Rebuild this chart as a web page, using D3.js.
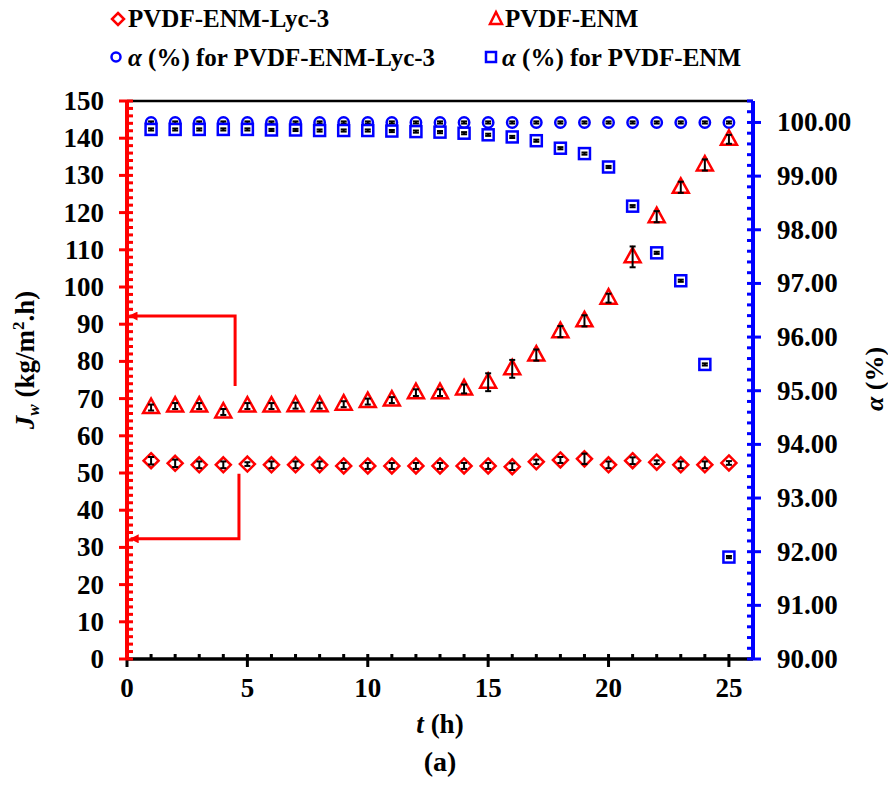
<!DOCTYPE html>
<html>
<head>
<meta charset="utf-8">
<script src="https://cdn.jsdelivr.net/npm/d3@7"></script>
<style>
  body { margin: 0; background: #fff; }
  text { font-family: "Liberation Serif", "Times New Roman", serif; font-weight: bold; fill: #000; }
</style>
</head>
<body>
<svg id="chart" width="888" height="787"></svg>
<script>
// data
var hours = [1, 2, 3, 4, 5, 6, 7, 8, 9, 10, 11, 12, 13, 14, 15, 16, 17, 18, 19, 20, 21, 22, 23, 24, 25];
var jwLyc = [53.3, 52.6, 52.2, 52.2, 52.4, 52.2, 52.2, 52.2, 51.9, 51.9, 51.9, 51.9, 51.9, 51.9, 51.9, 51.7, 53.0, 53.5, 53.8, 52.2, 53.3, 52.9, 52.2, 52.2, 52.7];
var jwLycErr = [1.0, 1.0, 0.9, 0.9, 0.5, 0.9, 0.9, 0.9, 0.8, 0.8, 0.8, 0.8, 0.8, 0.8, 0.8, 0.9, 0.6, 0.8, 1.4, 0.9, 0.9, 0.5, 0.9, 0.9, 0.5];
var jwEnm = [67.6, 68.0, 68.0, 66.4, 68.0, 68.0, 68.1, 68.1, 68.5, 69.2, 69.6, 71.6, 71.6, 72.6, 74.4, 78.0, 81.7, 88.0, 90.9, 97.0, 108.1, 118.9, 126.8, 132.8, 139.7];
var jwEnmErr = [0.8, 0.8, 0.8, 0.8, 0.8, 0.8, 0.8, 0.8, 0.8, 0.8, 0.8, 0.9, 0.9, 1.2, 2.4, 2.4, 1.5, 1.5, 1.5, 1.2, 2.8, 1.5, 1.5, 1.5, 1.2];
var alphaLyc = [100.0, 100.0, 100.0, 100.0, 100.0, 100.0, 100.0, 100.0, 100.0, 100.0, 100.0, 100.0, 100.0, 100.0, 100.0, 100.0, 100.0, 100.0, 100.0, 100.0, 100.0, 100.0, 100.0, 100.0, 100.0];
var alphaEnm = [99.87, 99.87, 99.87, 99.87, 99.87, 99.86, 99.86, 99.85, 99.85, 99.85, 99.84, 99.83, 99.82, 99.80, 99.77, 99.73, 99.66, 99.52, 99.42, 99.17, 98.44, 97.57, 97.05, 95.49, 91.90];
var alphaErr = 0.02;

var xTicks = [0, 5, 10, 15, 20, 25];
var leftTicks = [0, 10, 20, 30, 40, 50, 60, 70, 80, 90, 100, 110, 120, 130, 140, 150];
var rightTicks = [90, 91, 92, 93, 94, 95, 96, 97, 98, 99, 100];

// arrows pointing each series to its axis: [t, Jw] corners
var arrowEnm = [[4.49, 73.4], [4.49, 92.2], [0.1, 92.2]];
var arrowLyc = [[4.65, 49.8], [4.65, 32.3], [0.15, 32.3]];

var svg = d3.select('#chart');
var plotL = 127, plotR = 753, plotT = 101, plotB = 659;

var xScale = d3.scaleLinear().domain([0, 26]).range([plotL, plotR]);
var yLeft = d3.scaleLinear().domain([0, 150]).range([plotB, plotT]);
var yRight = d3.scaleLinear().domain([90, 100.4]).range([plotB, plotT]);

// top frame line
svg.append('line')
  .attr('x1', plotL).attr('x2', plotR)
  .attr('y1', plotT).attr('y2', plotT)
  .attr('stroke', '#000').attr('stroke-width', 2.5);

// bottom axis
var xMinor = d3.range(0, 27, 1);
svg.append('g').selectAll('line').data(xMinor).enter().append('line')
  .attr('x1', d => xScale(d)).attr('x2', d => xScale(d))
  .attr('y1', d => d % 5 == 0 ? plotB + 8 : plotB)
  .attr('y2', plotB - 5)
  .attr('stroke', '#000').attr('stroke-width', 3);
svg.append('line')
  .attr('x1', plotL).attr('x2', plotR)
  .attr('y1', plotB).attr('y2', plotB)
  .attr('stroke', '#000').attr('stroke-width', 3.5);
svg.append('g').selectAll('text').data(xTicks).enter().append('text')
  .attr('x', d => xScale(d)).attr('y', 697)
  .attr('text-anchor', 'middle')
  .style('font-size', '27px')
  .text(d => d);

// left axis (red)
var leftMinor = d3.range(0, 151, 2);
svg.append('g').selectAll('line').data(leftMinor).enter().append('line')
  .attr('y1', d => yLeft(d)).attr('y2', d => yLeft(d))
  .attr('x1', d => d % 10 == 0 ? plotL - 8 : plotL)
  .attr('x2', plotL + 6)
  .attr('stroke', 'red').attr('stroke-width', 3);
svg.append('line')
  .attr('x1', plotL).attr('x2', plotL)
  .attr('y1', plotT).attr('y2', plotB)
  .attr('stroke', 'red').attr('stroke-width', 4);
svg.append('g').selectAll('text').data(leftTicks).enter().append('text')
  .attr('x', 104).attr('y', d => yLeft(d) + 9)
  .attr('text-anchor', 'end')
  .style('font-size', '27px')
  .text(d => d);

// right axis (blue)
var rightMinor = d3.range(0, 53).map(i => 90 + i * 0.2);
svg.append('g').selectAll('line').data(rightMinor).enter().append('line')
  .attr('y1', d => yRight(d)).attr('y2', d => yRight(d))
  .attr('x1', d => Math.abs(d - Math.round(d)) < 0.01 ? plotR + 8 : plotR)
  .attr('x2', plotR - 6)
  .attr('stroke', 'blue').attr('stroke-width', 3);
svg.append('line')
  .attr('x1', plotR).attr('x2', plotR)
  .attr('y1', plotT).attr('y2', plotB)
  .attr('stroke', 'blue').attr('stroke-width', 4);
svg.append('g').selectAll('text').data(rightTicks).enter().append('text')
  .attr('x', 777).attr('y', d => yRight(d) + 9)
  .attr('text-anchor', 'start')
  .style('font-size', '27px')
  .text(d => d.toFixed(2));

// axis titles
var yTitle = svg.append('text')
  .attr('transform', 'translate(34,360) rotate(-90)')
  .attr('text-anchor', 'middle')
  .style('font-size', '27px');
yTitle.append('tspan').style('font-style', 'italic').text('J');
yTitle.append('tspan').style('font-style', 'italic').style('font-size', '17px').attr('dy', 5).text('w');
yTitle.append('tspan').attr('dy', -5).text(' (kg/m');
yTitle.append('tspan').style('font-size', '17px').attr('dy', -10).text('2');
yTitle.append('tspan').attr('dy', 10).text('.h)');

var rTitle = svg.append('text')
  .attr('transform', 'translate(883,379) rotate(-90)')
  .attr('text-anchor', 'middle')
  .style('font-size', '26px');
rTitle.append('tspan').style('font-style', 'italic').text('α');
rTitle.append('tspan').text(' (%)');

var xTitle = svg.append('text')
  .attr('x', 440).attr('y', 733)
  .attr('text-anchor', 'middle')
  .style('font-size', '27px');
xTitle.append('tspan').style('font-style', 'italic').text('t');
xTitle.append('tspan').text(' (h)');

svg.append('text')
  .attr('x', 440).attr('y', 771)
  .attr('text-anchor', 'middle')
  .style('font-size', '28px')
  .text('(a)');

// annotation arrows
var marker = svg.append('defs').append('marker')
  .attr('id', 'arrow')
  .attr('viewBox', '0 0 10 10')
  .attr('refX', 9).attr('refY', 5)
  .attr('markerWidth', 3).attr('markerHeight', 3)
  .attr('orient', 'auto');
marker.append('path').attr('d', 'M0,0 L10,5 L0,10 z').attr('fill', 'red');

var arrowLine = d3.line().x(d => xScale(d[0])).y(d => yLeft(d[1]));
[arrowEnm, arrowLyc].forEach(function(a) {
  svg.append('path')
    .attr('d', arrowLine(a))
    .attr('fill', 'none')
    .attr('stroke', 'red')
    .attr('stroke-width', 3)
    .attr('marker-end', 'url(#arrow)');
});

// markers
var diamond = 'M0,-7.5 L7.5,0 L0,7.5 L-7.5,0 Z';
var triangle = 'M0,-9 L8,5.5 L-8,5.5 Z';

function drawErrors(vals, errs, yScale) {
  var g = svg.append('g').attr('stroke', '#000').attr('stroke-width', 2);
  vals.forEach(function(v, i) {
    var e = Array.isArray(errs) ? errs[i] : errs;
    var cx = xScale(hours[i]);
    g.append('line').attr('x1', cx).attr('x2', cx).attr('y1', yScale(v - e)).attr('y2', yScale(v + e));
    g.append('line').attr('x1', cx - 3).attr('x2', cx + 3).attr('y1', yScale(v - e)).attr('y2', yScale(v - e));
    g.append('line').attr('x1', cx - 3).attr('x2', cx + 3).attr('y1', yScale(v + e)).attr('y2', yScale(v + e));
  });
}

svg.append('g').selectAll('circle').data(alphaLyc).enter().append('circle')
  .attr('cx', (d, i) => xScale(hours[i])).attr('cy', d => yRight(d))
  .attr('r', 5.2)
  .attr('fill', '#fff').attr('stroke', 'blue').attr('stroke-width', 2.5);
drawErrors(alphaLyc, alphaErr, yRight);

svg.append('g').selectAll('rect').data(alphaEnm).enter().append('rect')
  .attr('x', (d, i) => xScale(hours[i]) - 5.5).attr('y', d => yRight(d) - 5.5)
  .attr('width', 11).attr('height', 11)
  .attr('fill', '#fff').attr('stroke', 'blue').attr('stroke-width', 2.5);
drawErrors(alphaEnm, alphaErr, yRight);

svg.append('g').selectAll('path').data(jwLyc).enter().append('path')
  .attr('d', diamond)
  .attr('transform', (d, i) => 'translate(' + xScale(hours[i]) + ',' + yLeft(d) + ')')
  .attr('fill', '#fff').attr('stroke', 'red').attr('stroke-width', 2.5);
drawErrors(jwLyc, jwLycErr, yLeft);

svg.append('g').selectAll('path').data(jwEnm).enter().append('path')
  .attr('d', triangle)
  .attr('transform', (d, i) => 'translate(' + xScale(hours[i]) + ',' + yLeft(d) + ')')
  .attr('fill', '#fff').attr('stroke', 'red').attr('stroke-width', 2.5);
drawErrors(jwEnm, jwEnmErr, yLeft);

// legend
var legend = svg.append('g');
legend.append('path').attr('d', 'M0,-6 L6,0 L0,6 L-6,0 Z')
  .attr('transform', 'translate(118,19)')
  .attr('fill', '#fff').attr('stroke', 'red').attr('stroke-width', 2.5);
legend.append('text').attr('x', 128).attr('y', 27).style('font-size', '25px').text('PVDF-ENM-Lyc-3');

legend.append('path').attr('d', 'M0,-7 L6,5 L-6,5 Z')
  .attr('transform', 'translate(496,19)')
  .attr('fill', '#fff').attr('stroke', 'red').attr('stroke-width', 2.5);
legend.append('text').attr('x', 505).attr('y', 27).style('font-size', '25px').text('PVDF-ENM');

legend.append('circle').attr('cx', 116).attr('cy', 57).attr('r', 4.5)
  .attr('fill', '#fff').attr('stroke', 'blue').attr('stroke-width', 2.5);
var l3 = legend.append('text').attr('x', 128).attr('y', 66).style('font-size', '25px');
l3.append('tspan').style('font-style', 'italic').text('α');
l3.append('tspan').text(' (%) for PVDF-ENM-Lyc-3');

legend.append('rect').attr('x', 486).attr('y', 52).attr('width', 10).attr('height', 10)
  .attr('fill', '#fff').attr('stroke', 'blue').attr('stroke-width', 2.5);
var l4 = legend.append('text').attr('x', 502).attr('y', 66).style('font-size', '25px');
l4.append('tspan').style('font-style', 'italic').text('α');
l4.append('tspan').text(' (%) for PVDF-ENM');
</script>
</body>
</html>
